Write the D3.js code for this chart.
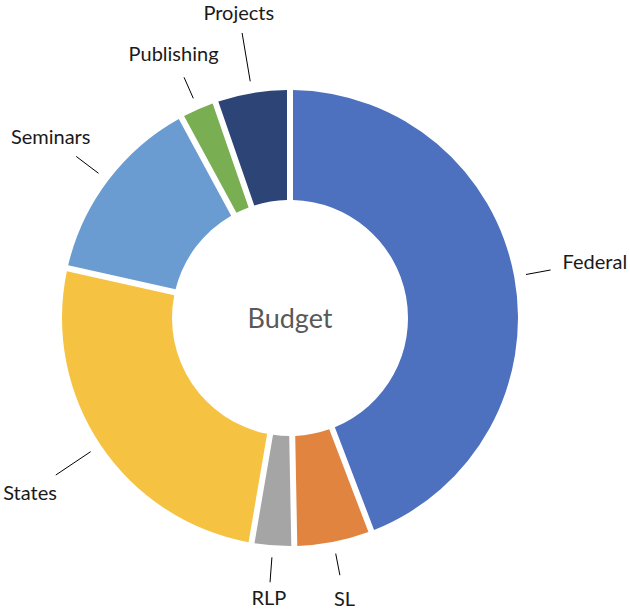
<!DOCTYPE html>
<html>
<head>
<meta charset="utf-8">
<script src="https://cdn.jsdelivr.net/npm/d3@7"></script>
<style>
  body { margin: 0; background: #fff; }
  text { font-family: Lato, "Open Sans", sans-serif; }
</style>
</head>
<body>
<div id="chart"></div>
<script>
// budget shares (percent), clockwise from 12 o'clock
var categories = ["Federal", "SL", "RLP", "States", "Seminars", "Publishing", "Projects"];
var shares = [44.2, 5.5, 3.0, 25.8, 13.6, 2.6, 5.3];
var colors = ["#4d71be", "#e0843f", "#a5a5a5", "#f5c242", "#6a9bd1", "#79ae53", "#2c4476"];

// label layout: where each leader line ends and where its label sits (radius from centre)
var leaderEnd = [265, 262, 265, 282, 268, 263, 289];
var labelRadius = [310, 286, 281, 313, 300, 289, 309];

var width = 630, height = 614;
var cx = 290, cy = 318;
var outer = 228, inner = 118;

var svg = d3.select("#chart").append("svg")
    .attr("width", width).attr("height", height);

var g = svg.append("g").attr("transform", `translate(${cx},${cy})`);

var data = categories.map((c, i) => ({name: c, value: shares[i], color: colors[i]}));

var pie = d3.pie().value(d => d.value).sort(null);
var arcs = pie(data);

var arc = d3.arc()
    .innerRadius(inner)
    .outerRadius(outer)
    .padAngle(6 / outer)
    .padRadius(outer);

g.append("g")
  .selectAll("path")
  .data(arcs)
  .join("path")
    .attr("fill", d => d.data.color)
    .attr("d", arc);

// polar -> xy, angle measured clockwise from top
function pt(a, r) {
  return [Math.sin(a) * r, -Math.cos(a) * r];
}
function mid(d) { return (d.startAngle + d.endAngle) / 2; }

g.append("g")
  .selectAll("line")
  .data(arcs)
  .join("line")
    .attr("x1", d => pt(mid(d), outer + 12)[0])
    .attr("y1", d => pt(mid(d), outer + 12)[1])
    .attr("x2", d => pt(mid(d), leaderEnd[d.index])[0])
    .attr("y2", d => pt(mid(d), leaderEnd[d.index])[1])
    .attr("stroke", "#000")
    .attr("stroke-width", 1);

g.append("g")
  .selectAll("text")
  .data(arcs)
  .join("text")
    .attr("x", d => pt(mid(d), labelRadius[d.index])[0])
    .attr("y", d => pt(mid(d), labelRadius[d.index])[1])
    .attr("dy", "0.36em")
    .attr("text-anchor", "middle")
    .attr("font-size", 20)
    .attr("fill", "#1a1a1a")
    .text(d => d.data.name);

g.append("text")
  .attr("text-anchor", "middle")
  .attr("dy", "0.36em")
  .attr("font-size", 27)
  .attr("fill", "#595959")
  .text("Budget");
</script>
</body>
</html>
